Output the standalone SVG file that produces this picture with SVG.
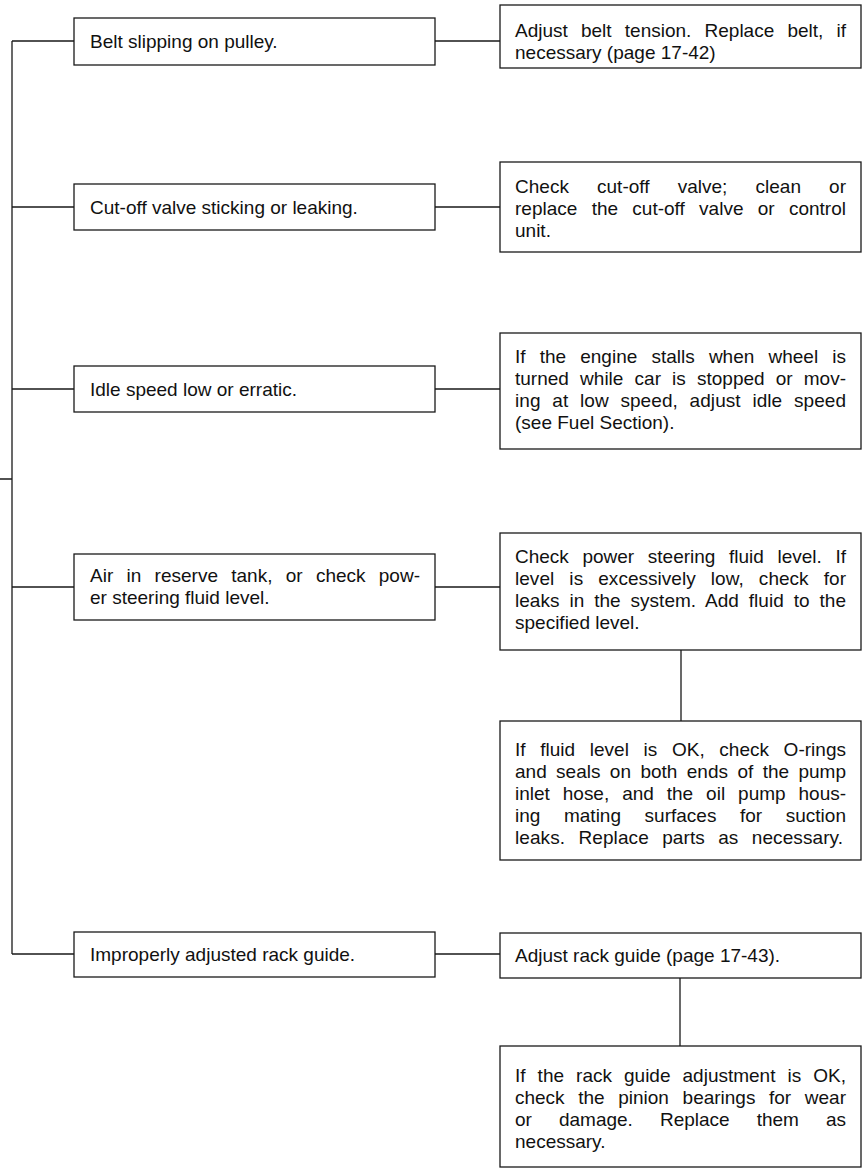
<svg xmlns="http://www.w3.org/2000/svg" width="866" height="1169" viewBox="0 0 866 1169">
<style>
.box{fill:#fff;stroke:#1a1a1a;stroke-width:1.3}
.c{fill:none;stroke:#1a1a1a;stroke-width:1.3}
.t{font-family:"Liberation Sans",Arial,Helvetica,sans-serif;font-size:19px;fill:#111}
</style>
<rect width="866" height="1169" fill="#fff"/>
<g id="connectors">
<path class="c" d="M12 41V954M0 479H12"/>
<path class="c" d="M12 41H74M12 207H74M12 389H74M12 587H74M12 954H74"/>
<path class="c" d="M435 41H500M435 207H500M435 389H500M435 587H500M435 954H500"/>
<path class="c" d="M681 650V721M680 978V1046"/>
</g>
<g id="cause1"><rect class="box" x="74" y="18" width="361" height="47"/><text class="t" x="90" y="48">Belt slipping on pulley.</text></g>
<g id="cause2"><rect class="box" x="74" y="184" width="361" height="46"/><text class="t" x="90" y="214">Cut-off valve sticking or leaking.</text></g>
<g id="cause3"><rect class="box" x="74" y="366" width="361" height="46"/><text class="t" x="90" y="396">Idle speed low or erratic.</text></g>
<g id="cause4"><rect class="box" x="74" y="554" width="361" height="66"/><text class="t" x="90" y="582" word-spacing="8" textLength="330" lengthAdjust="spacing">Air in reserve tank, or check pow-</text><text class="t" x="90" y="604">er steering fluid level.</text></g>
<g id="cause5"><rect class="box" x="74" y="932" width="361" height="45"/><text class="t" x="90" y="961">Improperly adjusted rack guide.</text></g>
<g id="fix1"><rect class="box" x="500" y="5" width="361" height="63"/><text class="t" x="515" y="37" word-spacing="7.9" textLength="331" lengthAdjust="spacing">Adjust belt tension. Replace belt, if</text><text class="t" x="515" y="59">necessary (page 17-42)</text></g>
<g id="fix2"><rect class="box" x="500" y="162" width="361" height="90"/><text class="t" x="515" y="193" word-spacing="22.8" textLength="331" lengthAdjust="spacing">Check cut-off valve; clean or</text><text class="t" x="515" y="215" word-spacing="9" textLength="331" lengthAdjust="spacing">replace the cut-off valve or control</text><text class="t" x="515" y="237">unit.</text></g>
<g id="fix3"><rect class="box" x="500" y="333" width="361" height="116"/><text class="t" x="515" y="363" word-spacing="8.8" textLength="331" lengthAdjust="spacing">If the engine stalls when wheel is</text><text class="t" x="515" y="385" word-spacing="5.8" textLength="331" lengthAdjust="spacing">turned while car is stopped or mov-</text><text class="t" x="515" y="407" word-spacing="6.4" textLength="331" lengthAdjust="spacing">ing at low speed, adjust idle speed</text><text class="t" x="515" y="429">(see Fuel Section).</text></g>
<g id="fix4"><rect class="box" x="500" y="533" width="361" height="117"/><text class="t" x="515" y="563" word-spacing="8.4" textLength="331" lengthAdjust="spacing">Check power steering fluid level. If</text><text class="t" x="515" y="585" word-spacing="9.8" textLength="331" lengthAdjust="spacing">level is excessively low, check for</text><text class="t" x="515" y="607" word-spacing="4.6" textLength="331" lengthAdjust="spacing">leaks in the system. Add fluid to the</text><text class="t" x="515" y="629">specified level.</text></g>
<g id="fix4b"><rect class="box" x="500" y="721" width="361" height="139"/><text class="t" x="515" y="756" word-spacing="9.3" textLength="331" lengthAdjust="spacing">If fluid level is OK, check O-rings</text><text class="t" x="515" y="778" word-spacing="4.1" textLength="331" lengthAdjust="spacing">and seals on both ends of the pump</text><text class="t" x="515" y="800" word-spacing="7.7" textLength="331" lengthAdjust="spacing">inlet hose, and the oil pump hous-</text><text class="t" x="515" y="822" word-spacing="18.3" textLength="331" lengthAdjust="spacing">ing mating surfaces for suction</text><text class="t" x="515" y="844" word-spacing="8" textLength="328" lengthAdjust="spacing">leaks. Replace parts as necessary.</text></g>
<g id="fix5"><rect class="box" x="500" y="933" width="361" height="45"/><text class="t" x="515" y="962">Adjust rack guide (page 17-43).</text></g>
<g id="fix5b"><rect class="box" x="500" y="1046" width="361" height="121"/><text class="t" x="515" y="1082" word-spacing="6.8" textLength="331" lengthAdjust="spacing">If the rack guide adjustment is OK,</text><text class="t" x="515" y="1104" word-spacing="8.4" textLength="331" lengthAdjust="spacing">check the pinion bearings for wear</text><text class="t" x="515" y="1126" word-spacing="21.8" textLength="331" lengthAdjust="spacing">or damage. Replace them as</text><text class="t" x="515" y="1148">necessary.</text></g>
</svg>
